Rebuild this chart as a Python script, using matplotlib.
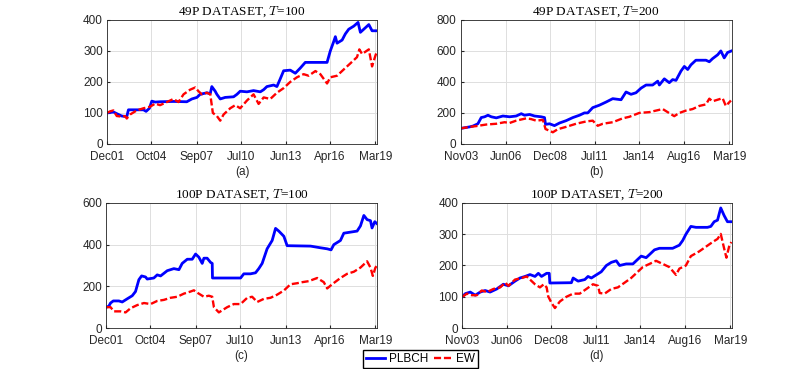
import matplotlib
matplotlib.use("Agg")
import matplotlib.pyplot as plt

plt.rcParams['font.family'] = ['Liberation Sans', 'DejaVu Sans']
plt.rcParams['mathtext.fontset'] = 'cm'

# x = months since first date of each panel
labels_100 = ['Dec01', 'Oct04', 'Sep07', 'Jul10', 'Jun13', 'Apr16', 'Mar19']
ticks_100 = [0, 34, 69, 103, 138, 172, 207]
labels_200 = ['Nov03', 'Jun06', 'Dec08', 'Jul11', 'Jan14', 'Aug16', 'Mar19']
ticks_200 = [0, 31, 61, 92, 122, 153, 184]

# (a) 49P, T=100
a_plb_x = [0, 4.9, 8.8, 11.3, 15.2, 16.5, 28.1, 30.1, 32.7, 34.5, 37.1, 40.9, 51.2, 61.5, 65.4, 69.3,
           71.8, 77.0, 79.6, 80.8, 83.4, 84.7, 87.3, 91.1, 97.6, 100.2, 102.7, 107.9, 113.0, 118.2,
           120.8, 123.3, 128.5, 131.0, 133.6, 136.2, 141.3, 145.2, 149.1, 152.9, 169.7, 172.2, 174.8,
           176.1, 177.4, 181.3, 183.8, 186.4, 190.3, 193.6, 195.4, 199.3, 201.9, 204.4, 208.3]
a_plb_y = [100, 103, 95, 90, 88, 110, 110, 105, 115, 138, 135, 136, 137, 136, 145, 150,
           160, 165, 162, 185, 170, 160, 145, 150, 152, 160, 170, 168, 172, 168,
           175, 185, 190, 185, 210, 236, 238, 228, 245, 263, 263, 300, 330,
           346, 325, 335, 355, 370, 380, 392, 360, 375, 385, 365, 365]
a_ew_x = [0, 2.3, 4.9, 7.5, 11.3, 13.9, 15.2, 17.8, 22.9, 28.1, 33.2, 37.1, 40.9, 46.1, 51.2, 55.1,
          59.0, 64.1, 68.0, 70.5, 73.1, 77.0, 79.6, 81.6, 84.7, 87.3, 89.9, 95.0, 98.9, 102.7,
          107.9, 113.0, 116.9, 120.8, 125.9, 131.0, 136.2, 141.3, 146.5, 151.6, 155.5, 160.7,
          164.5, 169.7, 172.2, 177.4, 182.5, 187.7, 192.8, 194.6, 196.7, 201.9, 204.4, 207.0, 208.3]
a_ew_y = [100, 105, 108, 90, 88, 90, 82, 95, 108, 115, 120, 130, 125, 135, 145, 135,
          160, 175, 182, 170, 160, 165, 160, 100, 90, 75, 95, 115, 125, 115,
          140, 160, 129, 150, 145, 165, 180, 200, 215, 225, 220, 235,
          225, 195, 215, 220, 240, 260, 280, 305, 290, 305, 250, 285, 300]

# (b) 49P, T=200
b_plb_x = [0, 6.2, 8.4, 11.8, 14.1, 16.4, 18.7, 21.0, 24.4, 28.9, 33.5, 38.0, 41.5, 43.7, 47.2, 50.6,
           55.1, 57.4, 58.1, 60.8, 64.2, 67.7, 72.2, 76.8, 81.3, 84.7, 87.0, 90.4, 95.0, 99.5, 104.1,
           109.8, 113.2, 116.6, 120.0, 123.5, 126.9, 131.4, 134.9, 136.0, 139.4, 142.8, 145.1, 147.4,
           150.8, 153.1, 155.4, 157.6, 161.0, 167.9, 170.2, 172.4, 175.9, 178.1, 180.4, 182.7, 185.4]
b_plb_y = [100, 110, 115, 130, 170, 175, 185, 175, 168, 180, 175, 180, 195, 185, 190, 180,
           175, 170, 126, 130, 118, 135, 150, 170, 185, 200, 200, 234, 250, 270, 292,
           285, 335, 320, 330, 360, 380, 380, 405, 380, 420, 395, 415, 410,
           470, 500, 480, 510, 540, 540, 530, 550, 575, 600, 555, 590, 600]
b_ew_x = [0, 6.2, 10.7, 17.5, 24.4, 30.1, 33.5, 38.0, 44.9, 48.3, 51.7, 56.3, 58.1, 60.8, 63.1, 66.5,
          72.2, 79.0, 85.9, 90.4, 93.8, 97.3, 104.1, 110.9, 115.5, 122.3, 129.2, 133.7, 138.3, 141.7,
          146.2, 149.7, 154.2, 158.8, 163.3, 167.9, 170.2, 172.4, 179.3, 181.5, 185.0]
b_ew_y = [100, 110, 115, 125, 130, 140, 135, 150, 165, 160, 150, 155, 96, 85, 75, 95,
          110, 130, 145, 150, 117, 130, 140, 165, 175, 200, 205, 215, 225, 205,
          179, 200, 215, 225, 245, 255, 292, 275, 295, 245, 280]

# (c) 100P, T=100
c_plb_x = [0, 2.0, 3.3, 5.4, 9.7, 12.3, 16.1, 20.0, 22.5, 25.1, 27.2, 30.2, 31.5, 36.6, 39.2, 41.8,
           46.9, 52.0, 55.9, 58.4, 62.3, 66.1, 68.7, 71.2, 73.8, 75.1, 77.6, 80.2, 81.5, 81.7, 103.3,
           105.8, 110.9, 114.8, 117.3, 119.9, 123.7, 127.6, 130.2, 132.7, 136.6, 139.1, 157.1, 164.7,
           169.9, 172.9, 175.0, 180.1, 182.7, 187.8, 192.9, 195.5, 198.1, 200.6, 203.2, 204.4, 206.5, 208.3]
c_plb_y = [100, 105, 120, 130, 130, 125, 140, 155, 175, 232, 250, 245, 235, 240, 255, 250,
           275, 285, 280, 310, 330, 330, 355, 340, 310, 335, 335, 315, 310, 240, 240,
           260, 260, 265, 285, 310, 380, 420, 478, 465, 440, 395, 393, 385,
           380, 375, 400, 420, 455, 460, 465, 490, 540, 520, 515, 480, 510, 500]
c_ew_x = [0, 3.3, 5.9, 11.0, 14.9, 18.7, 23.8, 29.0, 34.1, 39.2, 44.3, 49.4, 54.6, 59.7, 64.8, 67.4,
          69.9, 75.1, 78.9, 81.5, 82.8, 86.6, 93.0, 98.1, 103.3, 108.4, 112.2, 116.1, 121.2, 126.3,
          131.4, 136.6, 141.7, 146.8, 150.7, 155.8, 162.2, 167.3, 169.9, 173.7, 180.1, 185.2, 190.4,
          195.5, 200.6, 203.2, 205.0, 207.0, 208.3]
c_ew_y = [100, 100, 80, 80, 75, 95, 110, 120, 115, 130, 135, 145, 150, 165, 175, 181,
          170, 150, 155, 150, 100, 75, 100, 115, 115, 145, 150, 125, 140, 145,
          160, 180, 210, 215, 220, 225, 240, 220, 190, 210, 240, 260, 270,
          290, 320, 290, 250, 290, 300]

# (d) 100P, T=200
d_plb_x = [0, 2.1, 5.5, 8.9, 12.3, 15.7, 19.1, 23.7, 28.2, 31.7, 36.2, 39.6, 43.1, 46.5, 49.9, 52.2,
           54.4, 57.9, 59.7, 60.1, 74.9, 76.1, 79.5, 84.1, 86.3, 88.6, 92.0, 95.4, 98.9, 102.3, 105.7,
           108.0, 112.5, 117.1, 120.5, 122.8, 126.2, 128.5, 131.9, 135.3, 144.4, 149.0, 151.3, 153.5,
           156.9, 160.4, 168.3, 170.6, 172.9, 175.2, 177.4, 179.7, 182.0, 184.7]
d_plb_y = [100, 110, 115, 105, 115, 120, 115, 125, 140, 135, 150, 160, 165, 171, 165, 175,
           165, 175, 175, 144, 145, 160, 150, 155, 165, 160, 170, 180, 200, 210, 215,
           200, 205, 205, 220, 230, 225, 235, 250, 255, 255, 265, 280, 300,
           325, 322, 322, 325, 340, 345, 384, 360, 340, 340]
d_ew_x = [0, 3.2, 6.6, 10.0, 13.4, 16.9, 21.4, 26.0, 29.4, 31.7, 36.2, 40.8, 44.2, 46.5, 49.9, 53.3,
          56.0, 57.9, 59.0, 61.3, 63.6, 67.0, 71.5, 76.1, 80.6, 85.2, 89.7, 93.2, 94.3, 97.7, 102.3,
          106.8, 111.4, 115.9, 120.5, 123.9, 128.5, 133.0, 137.6, 142.1, 146.7, 149.0, 153.5, 156.9,
          162.6, 167.2, 171.8, 175.2, 177.4, 179.7, 181.3, 183.1, 184.7]
d_ew_y = [100, 110, 105, 105, 120, 115, 125, 130, 145, 135, 155, 160, 165, 155, 140, 130,
          140, 130, 101, 80, 64, 85, 100, 110, 110, 125, 140, 135, 112, 110, 125,
          130, 145, 160, 180, 195, 205, 215, 205, 195, 170, 190, 200, 230,
          245, 260, 275, 285, 301, 255, 225, 260, 275]

panels = [
    ([0.132, 0.610, 0.333, 0.336], a_plb_x, a_plb_y, a_ew_x, a_ew_y, ticks_100, labels_100, 208.3,
     [0, 100, 200, 300, 400], '49P DATASET, $T$=100', '(a)'),
    ([0.568, 0.610, 0.334, 0.336], b_plb_x, b_plb_y, b_ew_x, b_ew_y, ticks_200, labels_200, 185.4,
     [0, 200, 400, 600, 800], '49P DATASET, $T$=200', '(b)'),
    ([0.131, 0.111, 0.334, 0.339], c_plb_x, c_plb_y, c_ew_x, c_ew_y, ticks_100, labels_100, 208.3,
     [0, 200, 400, 600], '100P DATASET, $T$=100', '(c)'),
    ([0.570, 0.111, 0.332, 0.339], d_plb_x, d_plb_y, d_ew_x, d_ew_y, ticks_200, labels_200, 184.8,
     [0, 100, 200, 300, 400], '100P DATASET, $T$=200', '(d)'),
]

fig = plt.figure(figsize=(8.11, 3.69), dpi=100)

for rect, px, py, ex, ey, ticks, labels, xmax, yticks, title, tag in panels:
    ax = fig.add_axes(rect)
    ax.grid(True, color='#dedede', linewidth=0.7)
    ax.set_axisbelow(True)
    l1, = ax.plot(px, py, color='#0000ff', lw=2.0, label='PLBCH')
    l2, = ax.plot(ex, ey, color='#ff0000', lw=1.7, ls=(0, (3, 1.2)), label='EW')
    ax.set_xlim(0, xmax)
    ax.set_ylim(yticks[0], yticks[-1])
    ax.set_xticks(ticks)
    ax.set_xticklabels(labels)
    ax.set_yticks(yticks)
    ax.tick_params(direction='in', length=2.5, labelsize=8.5, colors='#262626')
    ax.tick_params(axis='x', pad=5)
    ax.tick_params(axis='y', pad=3)
    for s in ax.spines.values():
        s.set_color('#262626')
        s.set_linewidth(0.6)
    ax.set_title(title, fontsize=9.5, fontname='Liberation Serif', pad=4)
    ax.set_xlabel(tag, fontsize=8.5, color='#262626', labelpad=2)

fig.legend([l1, l2], ['PLBCH', 'EW'], loc='center', bbox_to_anchor=(0.519, 0.026), ncol=2,
           fancybox=False, edgecolor='black', framealpha=1, fontsize=8.5, handlelength=1.6,
           handletextpad=0.3, columnspacing=0.5, borderpad=0.25, borderaxespad=0)

fig.savefig('out.png', dpi=100)
